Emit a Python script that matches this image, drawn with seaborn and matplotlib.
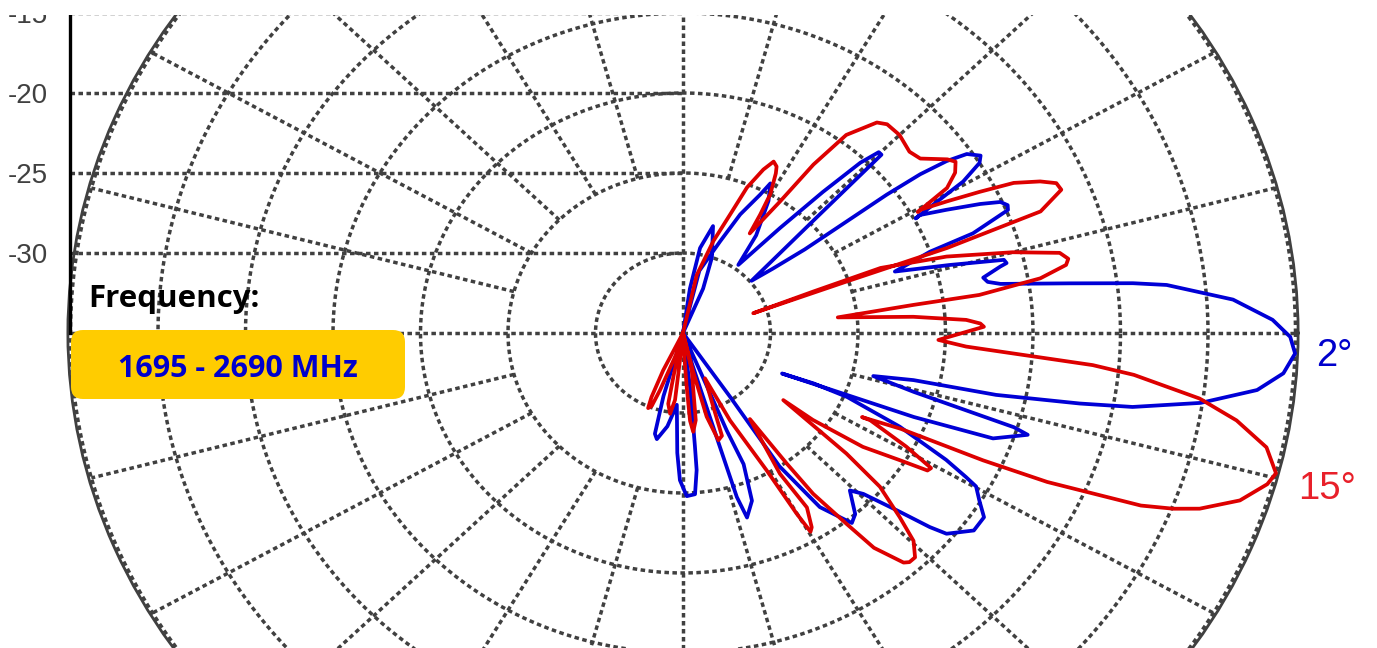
import numpy as np
import matplotlib
matplotlib.use("Agg")
import matplotlib.pyplot as plt
from matplotlib.patches import FancyBboxPatch, Rectangle
import pandas as pd
import seaborn as sns

# ---------------- data ----------------
# elevation angle (deg, + = up) and relative gain (dB) along each drawn path
blue_angle_deg = [
    -112, -105.8, -104.3, -102.7, -98.7, -94.5,
    -92.5, -91.1, -88.8, -86.1, -84.8, -84.5, -83.2, -80,
    -75, -73.5, -73.3, -72.4, -69.4, -67.1, -67.7, -66,
    -56, -56.5, -54.3, -51.4, -50.9, -49.0, -45.9, -44.3, -42.2, -40.7, -39.8,
    -36.6, -33.8, -31.7, -29.8, -29.1, -27.8, -25.3, -23.1, -22.9, -24.1,
    -21.7, -20.4, -17.9, -17.3, -16.3, -15.6, -13.9,
    -12.6, -12.2, -11.0, -10.2, -8.4, -6.2, -4.2, -2.1, -0.4, 1.4, 3.8, 6.2,
    6.9, 8.0, 9.6, 10.4, 11.4, 12.9, 13.3, 14.0, 15.6, 17.6,
    19.8, 20.6, 22.5, 23.3, 24.3, 25.4, 27.1, 28.6, 28.3,
    29.3, 30.6, 32.1, 33.1, 34.6, 35.5, 36.2, 36.6, 36.7, 36.9, 38.1, 39.8,
    43.4, 44.5, 45.3, 46.4, 47.8, 49.8, 53.4,
    55.6, 59.4, 61.9, 63.0, 66.2, 69.7, 76.5, 76.5,
    67.5, 70.7, 75.6, 79.6, 81.9, 85,
]
blue_gain_db = [
    -35, -30.9, -28.5, -28.2, -29.1, -30.5,
    -27.5, -25.8, -24.8, -24.9, -26.4, -27.9, -31.6, -35,
    -33, -27.6, -24.3, -22.9, -23.8, -26.1, -28.4, -35,
    -30.2, -25.0, -21.6, -20.0, -19.7, -20.0, -21.3, -20.6, -18.5, -16.4, -15.4,
    -14.3, -14.3, -15.1, -15.7, -16.5, -18.0, -21.3, -24.8, -26.9, -28.8,
    -20.8, -16.1, -14.3, -15.2, -19.3, -21.3, -23.8,
    -21.5, -16.7, -11.9, -8.9, -5.1, -2.0, -0.6, 0.0, -0.3, -1.3, -3.5, -7.2,
    -9.1, -12.7, -16.6, -17.3, -17.5, -16.4, -16.0, -16.1, -19.2, -22.3,
    -20.0, -17.3, -14.9, -14.8, -15.1, -16.2, -18.1, -19.6, -19.9,
    -18.6, -16.4, -15.0, -14.7, -15.3, -16.5, -18.2, -20.5, -23.3, -26.3, -28.5, -29.9,
    -24.5, -19.1, -19.1, -20.3, -23.1, -26.4, -29.7,
    -27.6, -25.4, -24.4, -25.3, -26.9, -28.9, -31.0, -35,
    -32.0, -30.0, -28.1, -29.6, -32.2, -35,
]

red_angle_deg = [
    -118, -115.9, -114.2, -113.0, -111.4, -110.2, -105.8, -103,
    -101.5, -100.8, -98.3, -96.2, -95.8, -92,
    -87, -86.4, -85.8, -84.6, -82.4, -77.9, -78,
    -76.5, -75.5, -73.2, -70.9, -69.4, -66.1,
    -63.8, -60.9, -60.1, -59.6, -58.8, -57.0, -57.8, -54.6,
    -54.0, -53.5, -51.9, -50.9, -48.7, -47.9, -46.6, -44.6, -42.9, -40.5, -38.9, -36.2,
    -36.2, -34.7, -32.7, -31.6, -30.8, -30.7, -29.1, -27.0, -27.2,
    -25.7, -24.9, -24.1, -22.4, -21.4, -20.4, -18.2, -15.8, -14.5, -12.1, -9.8,
    -7.9, -5.8, -4.9, -3.0, -1.7, 1.3, 2.0, 2.9, 4.4, 6.3,
    7.6, 8.0, 9.5, 11.0, 11.9, 13.1, 15.0, 17.6, 19.8, 19.2, 17.1,
    19.0, 19.4, 20.4, 22.5, 23.7, 24.9, 26.4, 27.5, 28.6, 29.6, 29.4,
    31.0, 32.8, 34.5, 35.7, 38.8, 41.2, 45.0, 48.2, 49.9, 53.0, 54.7, 56.0, 58.5,
    59.2, 60.1, 62.0, 62.8, 64.2, 65.8, 68.1, 70.0, 73.2, 77.8, 80,
]
red_gain_db = [
    -35, -32.4, -30.6, -29.9, -30.1, -31.2, -33.7, -35,
    -32.5, -30.5, -29.9, -30.8, -33.3, -35,
    -33.5, -31.6, -29.5, -28.8, -29.5, -32.6, -35,
    -32.5, -29.6, -28.0, -28.2, -30.1, -31.9,
    -28.9, -25.2, -22.0, -20.6, -20.8, -22.0, -24.6, -28.4,
    -24.9, -22.5, -19.8, -17.7, -15.9, -15.7, -15.7, -16.5, -18.1, -20.2, -23.0, -27.9,
    -25.8, -22.5, -20.3, -18.6, -18.5, -18.6, -20.4, -23.0, -23.5,
    -21.2, -16.1, -12.2, -6.7, -4.9, -3.5, -1.5, -0.3, 0.0, -0.9, -2.9,
    -5.2, -9.1, -11.5, -18.8, -20.4, -17.8, -18.0, -18.8, -21.8, -26.1,
    -21.7, -17.9, -14.3, -12.7, -12.5, -12.9, -15.5, -19.2, -23.0, -27.1, -30.8,
    -25.1, -19.0, -13.2, -11.6, -11.7, -12.5, -13.9, -15.9, -17.8, -19.4, -19.6,
    -17.4, -16.5, -16.1, -16.4, -17.6, -17.8, -17.5, -17.5, -17.8, -19.5, -22.1, -25.1, -27.7,
    -26.4, -25.0, -23.7, -23.3, -23.1, -23.8, -25.2, -27.1, -29.0, -31.3, -35,
]

series_labels = ["2°", "15°"]
axis_tick_values = [-30, -25, -20, -15]
axis_tick_labels = ["-30", "-25", "-20", "-15"]
ring_levels = [-30, -25, -20, -15, -10, -5, 0]
spoke_angles = list(range(0, 360, 15))
box_title = "Frequency:"
band_text = "1695 - 2690 MHz"

# ---------------- styling ----------------
BLUE = "#0000D6"
RED = "#DD0000"
GRID = "#404040"
DOT = (0, (1.3, 1.0))
GRID_LW = 2.5

sns.set_style("white")
plt.rcParams["font.family"] = ["Liberation Sans", "DejaVu Sans"]

FW, FH, DPI = 13.77, 6.48, 100
fig = plt.figure(figsize=(FW, FH), dpi=DPI)
PXW, PXH = FW * DPI, FH * DPI

R_MIN, R_MAX = -35.0, 0.15
cx, cy = 683.0, PXH - 333.0
px_db_x, px_db_y = 17.5, 16.0
rx = (R_MAX - R_MIN) * px_db_x
ry = (R_MAX - R_MIN) * px_db_y

ax = fig.add_axes([(cx - rx) / PXW, (cy - ry) / PXH, 2 * rx / PXW, 2 * ry / PXH],
                  projection="polar")
ax.set_aspect("auto")
ax.set_rlim(R_MIN, R_MAX)
ax.set_xticks([])
ax.set_yticks([])
ax.grid(False)
ax.set_facecolor("none")
ax.spines["polar"].set_color(GRID)
ax.spines["polar"].set_linewidth(2.0)

# grid: rings and spokes
tt = np.linspace(0, 2 * np.pi, 721)
for lev in ring_levels:
    ax.plot(tt, np.full_like(tt, lev), color=GRID, lw=GRID_LW, ls=DOT,
            dash_capstyle="butt", zorder=1)
for a in spoke_angles:
    r0 = R_MIN if a % 90 == 0 else ring_levels[1]
    ax.plot(np.deg2rad([a, a]), [r0, 0], color=GRID, lw=GRID_LW, ls=DOT,
            dash_capstyle="butt", zorder=1)

# patterns
df = pd.concat([
    pd.DataFrame({"theta": np.deg2rad(blue_angle_deg), "gain": blue_gain_db,
                  "tilt": series_labels[0]}),
    pd.DataFrame({"theta": np.deg2rad(red_angle_deg), "gain": red_gain_db,
                  "tilt": series_labels[1]}),
])
for lab, col in zip(series_labels, [BLUE, RED]):
    sub = df[df["tilt"] == lab]
    sns.lineplot(data=sub, x="theta", y="gain", ax=ax, sort=False, estimator=None,
                 color=col, linewidth=2.7, zorder=3)
ax.set_xlabel("")
ax.set_ylabel("")
ax.set_rlim(R_MIN, R_MAX)

# left cartesian scale (dB) with horizontal guides to the centre line
x_left = 70.0
ax2 = fig.add_axes([x_left / PXW, (cy - ry) / PXH, (cx - x_left) / PXW, 2 * ry / PXH])
ax2.set_facecolor("none")
ax2.set_xlim(0, 1)
ax2.set_ylim(R_MIN - (R_MAX - R_MIN), R_MAX)
for v in axis_tick_values:
    ax2.plot([0, 1], [v, v], color=GRID, lw=GRID_LW, ls=DOT, dash_capstyle="butt")
for s in ["top", "right", "bottom"]:
    ax2.spines[s].set_visible(False)
ax2.spines["left"].set_color("black")
ax2.spines["left"].set_linewidth(2.4)
ax2.spines["left"].set_bounds(R_MIN, axis_tick_values[-1])
ax2.set_xticks([])
ax2.set_yticks(axis_tick_values)
ax2.set_yticklabels(axis_tick_labels)
ax2.tick_params(axis="y", direction="out", length=12, width=2.4, color="black",
                labelsize=20, labelcolor="#404040", pad=4)

# frequency badge
fig.text(88 / DPI, (PXH - 307) / DPI, box_title, transform=fig.dpi_scale_trans,
         fontfamily=["Open Sans", "DejaVu Sans"], fontweight="bold", fontsize=22.5,
         color="black", ha="left", va="baseline", zorder=60)
badge = FancyBboxPatch((71 / DPI, (PXH - 399) / DPI), 334 / DPI, 69 / DPI,
                       boxstyle="round,pad=0,rounding_size=0.12",
                       transform=fig.dpi_scale_trans, facecolor="#FFCC00",
                       edgecolor="none", zorder=55)
fig.add_artist(badge)
fig.text(238 / DPI, (PXH - 377) / DPI, band_text, transform=fig.dpi_scale_trans,
         fontfamily=["Open Sans", "DejaVu Sans"], fontweight="bold", fontsize=22,
         color="#0000CC", ha="center", va="baseline", zorder=60)

# series labels
fig.text(1316 / DPI, (PXH - 366) / DPI, series_labels[0], transform=fig.dpi_scale_trans,
         fontsize=27.5, color="#0000CC", ha="left", va="baseline", zorder=60)
fig.text(1298 / DPI, (PXH - 499) / DPI, series_labels[1], transform=fig.dpi_scale_trans,
         fontsize=27.5, color="#E8202A", ha="left", va="baseline", zorder=60)

# top crop of the original picture
fig.add_artist(Rectangle((0, (PXH - 15) / DPI), FW, 15 / DPI, transform=fig.dpi_scale_trans,
                         facecolor="white", edgecolor="none", zorder=50))

fig.savefig("out.png", dpi=DPI)
